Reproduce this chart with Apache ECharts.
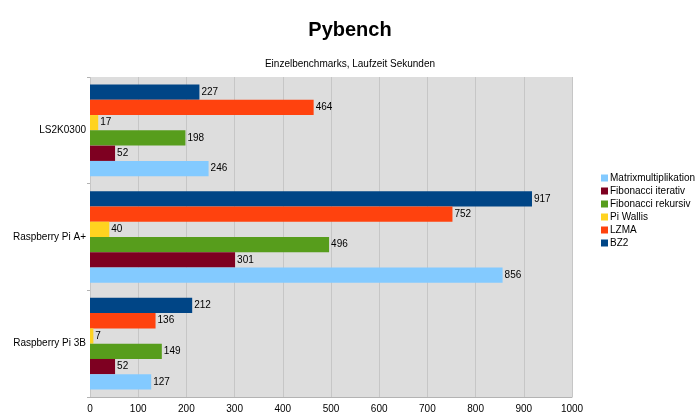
<!DOCTYPE html>
<html><head><meta charset="utf-8">
<script src="https://cdn.jsdelivr.net/npm/echarts@6/dist/echarts.min.js"></script>
<style>html,body{margin:0;padding:0;background:#fff}#c{width:700px;height:420px}</style>
</head><body><div id="c"></div>
<script>
const categories = ['Raspberry Pi 3B', 'Raspberry Pi A+', 'LS2K0300'];
const seriesNames = ['Matrixmultiplikation', 'Fibonacci iterativ', 'Fibonacci rekursiv', 'Pi Wallis', 'LZMA', 'BZ2'];
const matrixmultiplikation = [127, 856, 246];
const fibonacciIterativ = [52, 301, 52];
const fibonacciRekursiv = [149, 496, 198];
const piWallis = [7, 40, 17];
const lzma = [136, 752, 464];
const bz2 = [212, 917, 227];
const xTicks = [0, 100, 200, 300, 400, 500, 600, 700, 800, 900, 1000];
const colors = ['#83caff', '#7e0021', '#579d1c', '#ffd320', '#ff420e', '#004586'];
const values = [matrixmultiplikation, fibonacciIterativ, fibonacciRekursiv, piWallis, lzma, bz2];
const font = 'Liberation Sans';
const chart = echarts.init(document.getElementById('c'), null, {renderer: 'canvas'});
const order = [5, 4, 3, 2, 1, 0];
chart.setOption({
  animation: false,
  backgroundColor: '#ffffff',
  title: [
    {text: 'Pybench', left: 'center', top: 15, textStyle: {fontFamily: font, fontSize: 20, fontWeight: 'bold', color: '#000'}},
    {text: 'Einzelbenchmarks, Laufzeit Sekunden', left: 'center', top: 54, textStyle: {fontFamily: font, fontSize: 10, fontWeight: 'normal', color: '#000'}}
  ],
  legend: {
    orient: 'vertical', left: 596, top: 168, itemWidth: 7, itemHeight: 7, itemGap: 3,
    icon: 'rect', data: seriesNames,
    textStyle: {fontFamily: font, fontSize: 10, color: '#000', padding: [0, 0, 0, -3]}
  },
  grid: {left: 90, right: 128, top: 77, bottom: 23, show: true, backgroundColor: '#dddddd', borderWidth: 0},
  xAxis: {
    type: 'value', min: xTicks[0], max: xTicks[xTicks.length - 1], interval: 100,
    axisLine: {show: true, lineStyle: {color: '#b3b3b3'}},
    axisTick: {show: false},
    splitLine: {show: true, lineStyle: {color: '#c6c6c6', width: 1}},
    axisLabel: {fontFamily: font, fontSize: 10, color: '#000', margin: 7, formatter: v => String(v)}
  },
  yAxis: {
    type: 'category', data: categories,
    axisLine: {show: false},
    axisTick: {show: true, length: 3, lineStyle: {color: '#b3b3b3'}},
    axisLabel: {fontFamily: font, fontSize: 10, color: '#000', margin: 4}
  },
  series: order.map(i => ({
    name: seriesNames[i], type: 'bar', data: values[i], barGap: '0%', barCategoryGap: '14%',
    itemStyle: {color: colors[i]},
    label: {show: true, position: 'right', distance: 2, fontFamily: font, fontSize: 10, color: '#000'}
  }))
});
</script></body></html>
